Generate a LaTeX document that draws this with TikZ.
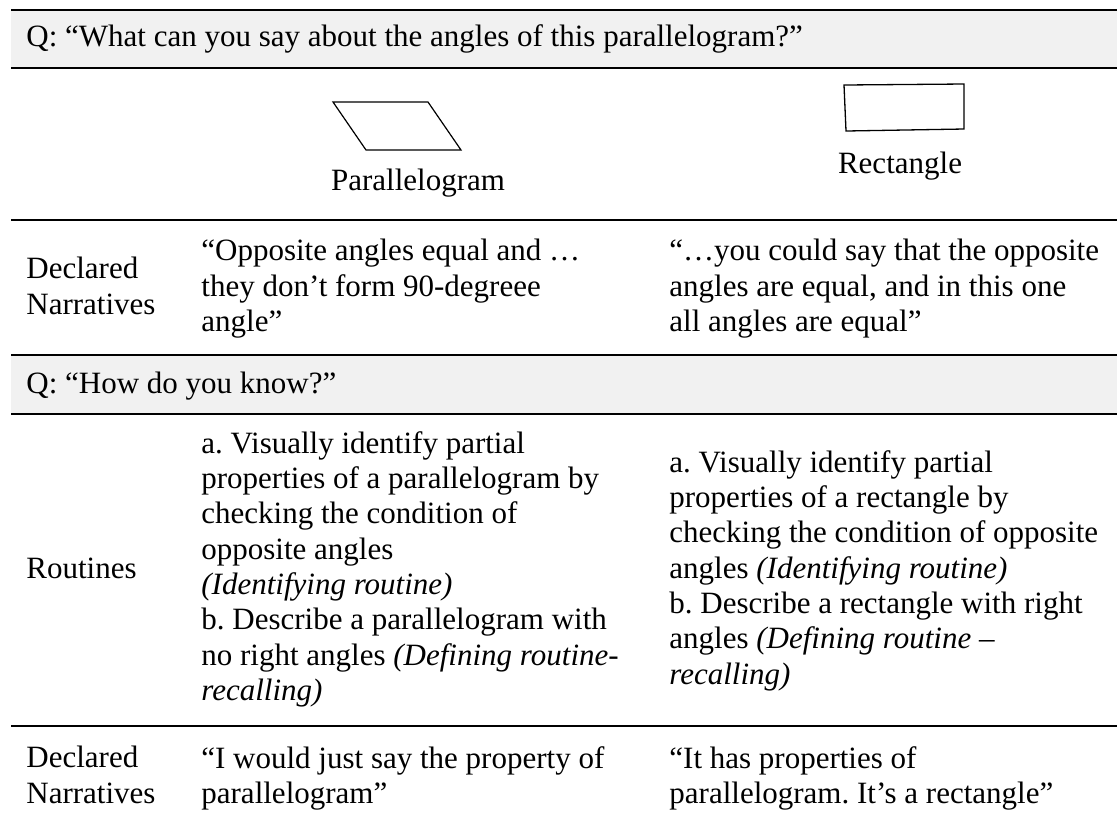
\documentclass[tikz,border=0pt]{standalone}
\usepackage{fontspec}
\setmainfont{Liberation Serif}
\usepackage{xcolor}
\usepackage{tikz}
\usetikzlibrary{positioning}
\definecolor{bandgray}{RGB}{241,241,241}
\frenchspacing

\begin{document}
\begin{tikzpicture}[x=0.5pt, y=-0.5pt,
    cell/.style={anchor=north west, inner sep=0pt, align=left,
      font=\fontsize{15.5pt}{17.65pt}\selectfont},
    line/.style={anchor=base west, inner sep=0pt,
      font=\fontsize{15.5pt}{17.65pt}\selectfont},
    rule/.style={line width=1pt}]
      % Define the table edges and the column starts
      \def\TableLeft{11}
      \def\TableRight{1117}
      \def\ColA{26}
      \def\ColB{201}
      \def\ColC{669}

      % Fix the page size
      \useasboundingbox (0,0) rectangle (1117,816);

      % Draw the grey question bands
      \fill[bandgray] (\TableLeft,10) rectangle (\TableRight,67);
      \fill[bandgray] (\TableLeft,355) rectangle (\TableRight,414);

      % Draw the rules
      \draw[rule] (\TableLeft,9.5) -- (\TableRight,9.5);
      \draw[rule] (\TableLeft,67.5) -- (\TableRight,67.5);
      \draw[rule] (\TableLeft,220) -- (\TableRight,220);
      \draw[rule] (\TableLeft,355) -- (\TableRight,355);
      \draw[rule] (\TableLeft,414) -- (\TableRight,414);
      \draw[rule] (\TableLeft,726) -- (\TableRight,726);

      % Questions
      \node[line] (QAngles) at (\ColA,46) {Q: “What can you say about the angles of this parallelogram?”};
      \node[line] (QKnow) at (\ColA,393) {Q: “How do you know?”};

      % Draw the shapes
      \draw[line width=0.6pt, line join=miter] (333,102) -- (428,102) -- (461,150) -- (366,150) -- cycle; % parallelogram
      \draw[line width=0.65pt] (844,85) -- (964,84) -- (964,129) -- (846,131) -- cycle; % rectangle
      \node[line, anchor=base] (ParaLabel) at (418,190) {Parallelogram};
      \node[line, anchor=base] (RectLabel) at (900,173) {Rectangle};

      % First narratives
      \node[cell] (DeclaredA) at (\ColA,257) {Declared\\Narratives};
      \node[cell] (NarrParaA) at (\ColB,239) {“Opposite angles equal and …\\they don’t form 90-degreee\\angle”};
      \node[cell] (NarrRectA) at (\ColC,239) {“…you could say that the opposite\\angles are equal, and in this one\\all angles are equal”};

      % Routines
      \node[cell] (Routines) at (\ColA,558) {Routines};
      \node[cell] (RoutPara) at (\ColB,431) {a. Visually identify partial\\properties of a parallelogram by\\checking the condition of\\opposite angles\\\textit{(Identifying routine)}\\b. Describe a parallelogram with\\no right angles \textit{(Defining routine-}\\\textit{recalling)}};
      \node[cell] (RoutRect) at (\ColC,450) {a. Visually identify partial\\properties of a rectangle by\\checking the condition of opposite\\angles \textit{(Identifying routine)}\\b. Describe a rectangle with right\\angles \textit{(Defining routine –}\\\textit{recalling)}};

      % Second narratives
      \node[cell] (DeclaredB) at (\ColA,746) {Declared\\Narratives};
      \node[cell] (NarrParaB) at (\ColB,746) {“I would just say the property of\\parallelogram”};
      \node[cell] (NarrRectB) at (\ColC,746) {“It has properties of\\parallelogram. It’s a rectangle”};
    \end{tikzpicture}
\end{document}
